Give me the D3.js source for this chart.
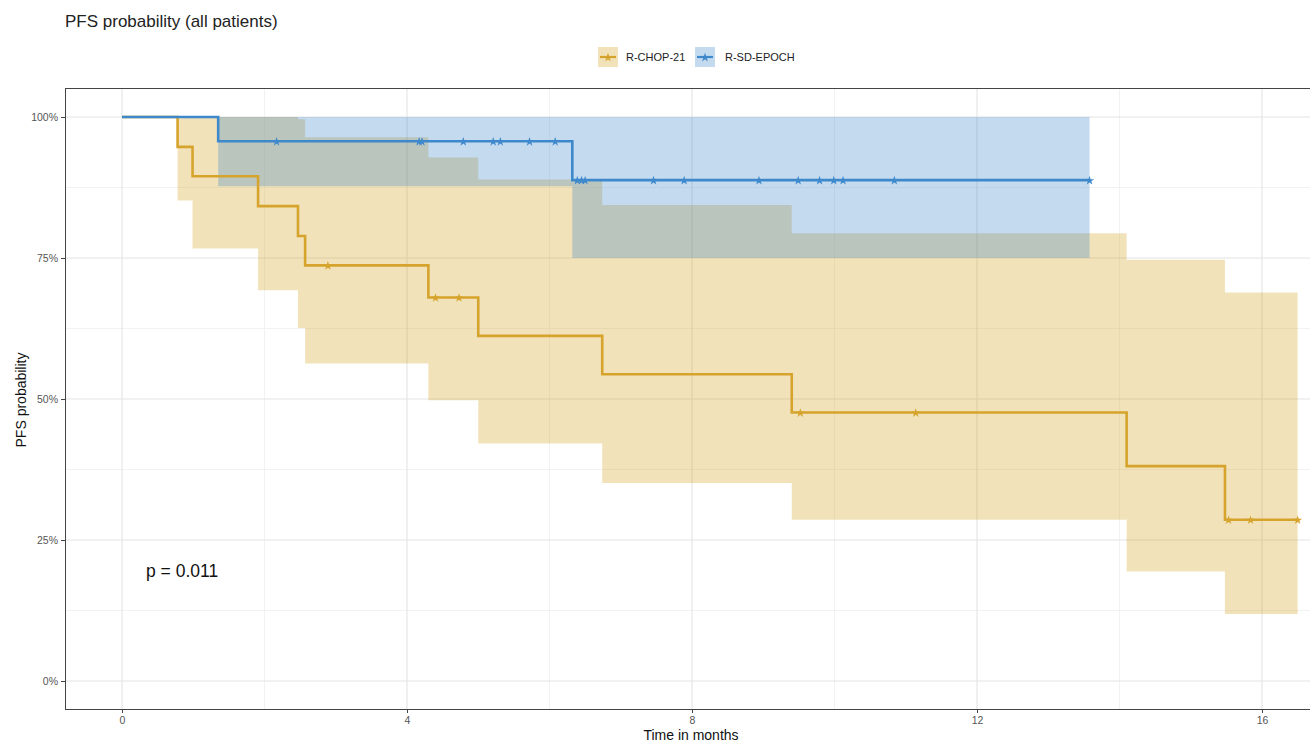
<!DOCTYPE html>
<html>
<head>
<meta charset="utf-8">
<script src="https://cdn.jsdelivr.net/npm/d3@7"></script>
<style>
  html, body { margin: 0; padding: 0; background: #fff; }
  svg { display: block; font-family: "Liberation Sans", Arial, Helvetica, sans-serif; }
</style>
</head>
<body>
<svg id="chart" width="1310" height="742"></svg>
<script>
// ---------------- data ----------------
const groups = ["R-CHOP-21", "R-SD-EPOCH"];

// R-CHOP-21 step function
const chopTime  = [0, 0.78, 0.99, 1.91, 2.47, 2.57, 4.30, 5.00, 6.74, 9.40, 14.10, 15.48, 16.50];
const chopSurv  = [1, 0.947, 0.895, 0.842, 0.789, 0.737, 0.680, 0.612, 0.544, 0.476, 0.381, 0.286, 0.286];
const chopUpper = [1, 1, 1, 1, 0.996, 0.964, 0.928, 0.889, 0.844, 0.794, 0.747, 0.689, 0.689];
const chopLower = [1, 0.852, 0.767, 0.693, 0.626, 0.563, 0.498, 0.421, 0.351, 0.286, 0.194, 0.119, 0.119];
const chopCensor = [2.89, 4.40, 4.73, 9.52, 11.14, 15.53, 15.84, 16.50];

// R-SD-EPOCH step function
const epochTime  = [0, 1.35, 6.32, 13.58];
const epochSurv  = [1, 0.957, 0.888, 0.888];
const epochUpper = [1, 1, 1, 1];
const epochLower = [1, 0.877, 0.750, 0.750];
const epochCensor = [2.17, 4.17, 4.21, 4.79, 5.21, 5.31, 5.72, 6.08, 6.39, 6.45, 6.50,
                     7.46, 7.89, 8.94, 9.49, 9.79, 9.99, 10.12, 10.84, 13.58];

const xTicks = [0, 4, 8, 12, 16];
const xMinor = [2, 6, 10, 14];
const yTicks = [0, 0.25, 0.5, 0.75, 1];
const yMinor = [0.125, 0.375, 0.625, 0.875];
const yTickLabels = ["0%", "25%", "50%", "75%", "100%"];

const title = "PFS probability (all patients)";
const xTitle = "Time in months";
const yTitle = "PFS probability";
const pText = "p = 0.011";

// ---------------- styling ----------------
const colors = { "R-CHOP-21": "#D09E16", "R-SD-EPOCH": "#3A84C6" };
const lineColors = { "R-CHOP-21": "#D6A42C", "R-SD-EPOCH": "#3E88CC" };
const bandOpacity = 0.3;

const svg = d3.select("#chart");
const panel = { left: 65, top: 88, right: 1360, bottom: 709 };

const x = d3.scaleLinear().domain([0, 16]).range([122, 1262]);
const y = d3.scaleLinear().domain([0, 1]).range([681, 117]);

// panel background
svg.append("rect").attr("x", panel.left).attr("y", panel.top)
  .attr("width", panel.right - panel.left).attr("height", panel.bottom - panel.top)
  .attr("fill", "#fff");

// grid
const grid = svg.append("g");
grid.selectAll(".xmin").data(xMinor).join("line")
  .attr("x1", d => x(d)).attr("x2", d => x(d)).attr("y1", panel.top).attr("y2", panel.bottom)
  .attr("stroke", "#efefef").attr("stroke-width", 0.8);
grid.selectAll(".ymin").data(yMinor).join("line")
  .attr("y1", d => y(d)).attr("y2", d => y(d)).attr("x1", panel.left).attr("x2", panel.right)
  .attr("stroke", "#efefef").attr("stroke-width", 0.8);
grid.selectAll(".xmaj").data(xTicks).join("line")
  .attr("x1", d => x(d)).attr("x2", d => x(d)).attr("y1", panel.top).attr("y2", panel.bottom)
  .attr("stroke", "#e4e4e4").attr("stroke-width", 1.1);
grid.selectAll(".ymaj").data(yTicks).join("line")
  .attr("y1", d => y(d)).attr("y2", d => y(d)).attr("x1", panel.left).attr("x2", panel.right)
  .attr("stroke", "#e4e4e4").attr("stroke-width", 1.1);

// build series
function series(t, s, u, l) { return t.map((d, i) => ({ t: d, s: s[i], u: u[i], l: l[i] })); }
const data = {
  "R-CHOP-21": { pts: series(chopTime, chopSurv, chopUpper, chopLower), cens: chopCensor, time: chopTime, surv: chopSurv },
  "R-SD-EPOCH": { pts: series(epochTime, epochSurv, epochUpper, epochLower), cens: epochCensor, time: epochTime, surv: epochSurv }
};

const area = d3.area().curve(d3.curveStepAfter)
  .x(d => x(d.t)).y0(d => y(d.l)).y1(d => y(d.u));
const line = d3.line().curve(d3.curveStepAfter)
  .x(d => x(d.t)).y(d => y(d.s));

groups.forEach(g => {
  svg.append("path").datum(data[g].pts).attr("d", area)
    .attr("fill", colors[g]).attr("fill-opacity", bandOpacity);
});
groups.forEach(g => {
  svg.append("path").datum(data[g].pts).attr("d", line)
    .attr("fill", "none").attr("stroke", lineColors[g]).attr("stroke-width", 2.6);
});

function survAt(g, t) {
  const tt = data[g].time, ss = data[g].surv;
  let v = ss[0];
  for (let i = 0; i < tt.length; i++) if (tt[i] <= t) v = ss[i];
  return v;
}
const star = d3.symbol().type(d3.symbolStar).size(26);
groups.forEach(g => {
  svg.append("g").selectAll("path").data(data[g].cens).join("path")
    .attr("d", star)
    .attr("transform", d => `translate(${x(d)},${y(survAt(g, d)) + 0.5})`)
    .attr("fill", lineColors[g]);
});

// panel border
svg.append("rect").attr("x", panel.left + 0.5).attr("y", panel.top + 0.5)
  .attr("width", panel.right - panel.left).attr("height", panel.bottom - panel.top)
  .attr("fill", "none").attr("stroke", "#444").attr("stroke-width", 1);

// axes
const xAxis = svg.append("g").attr("transform", `translate(0,${panel.bottom})`)
  .call(d3.axisBottom(x).tickValues(xTicks).tickSize(4).tickPadding(4).tickFormat(d3.format("d")));
xAxis.select(".domain").remove();
xAxis.selectAll("line").attr("stroke", "#444");
xAxis.selectAll("text").attr("fill", "#555").style("font-size", "10.5px")
  .style("font-family", "'Liberation Sans', Arial, sans-serif");

const yAxis = svg.append("g").attr("transform", `translate(${panel.left},0)`)
  .call(d3.axisLeft(y).tickValues(yTicks).tickSize(4).tickPadding(3)
    .tickFormat((d, i) => yTickLabels[i]));
yAxis.select(".domain").remove();
yAxis.selectAll("line").attr("stroke", "#444");
yAxis.selectAll("text").attr("fill", "#555").style("font-size", "10.5px")
  .style("font-family", "'Liberation Sans', Arial, sans-serif");

// titles
svg.append("text").attr("x", 65).attr("y", 27).text(title)
  .attr("fill", "#222").style("font-size", "17px");
svg.append("text").attr("x", 691).attr("y", 740).attr("text-anchor", "middle").text(xTitle)
  .attr("fill", "#111").style("font-size", "14px");
svg.append("text").attr("transform", "translate(26,400) rotate(-90)").attr("text-anchor", "middle")
  .text(yTitle).attr("fill", "#111").style("font-size", "14px");

// p-value
svg.append("text").attr("x", 146).attr("y", 577).text(pText)
  .attr("fill", "#111").style("font-size", "17.5px");

// legend
const legendItems = [
  { g: "R-CHOP-21", kx: 598, tx: 626 },
  { g: "R-SD-EPOCH", kx: 695, tx: 725 }
];
const leg = svg.append("g");
legendItems.forEach(it => {
  leg.append("rect").attr("x", it.kx).attr("y", 47).attr("width", 20).attr("height", 20)
    .attr("fill", colors[it.g]).attr("fill-opacity", bandOpacity);
  leg.append("line").attr("x1", it.kx + 2).attr("x2", it.kx + 18).attr("y1", 57).attr("y2", 57)
    .attr("stroke", lineColors[it.g]).attr("stroke-width", 2.2);
  leg.append("path").attr("d", star).attr("transform", `translate(${it.kx + 10},57.5)`)
    .attr("fill", lineColors[it.g]);
  leg.append("text").attr("x", it.tx).attr("y", 61).text(it.g)
    .attr("fill", "#222").style("font-size", "11px");
});
</script>
</body>
</html>
